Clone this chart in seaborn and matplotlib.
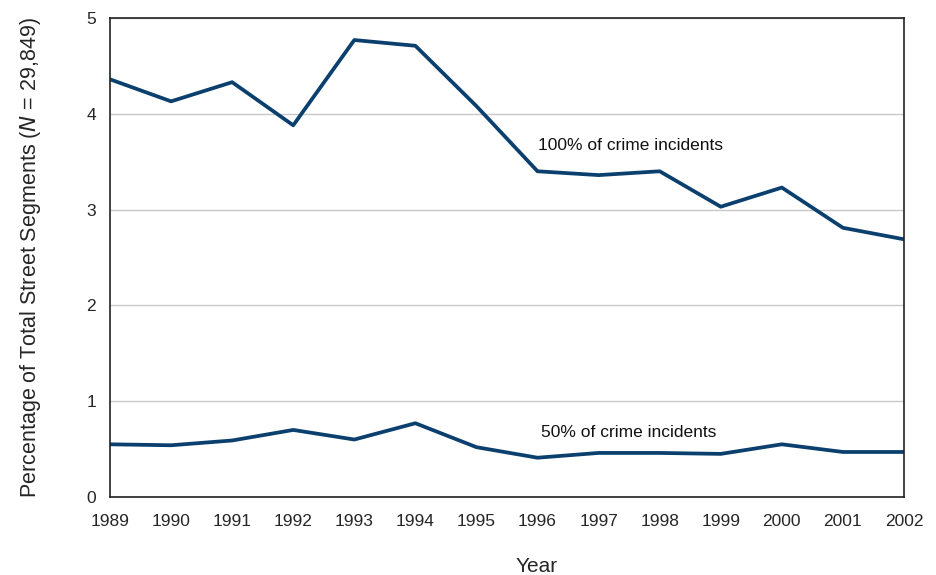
import matplotlib
matplotlib.use("Agg")
import matplotlib.pyplot as plt
import seaborn as sns
import pandas as pd
from matplotlib import font_manager

years = [1989, 1990, 1991, 1992, 1993, 1994, 1995, 1996, 1997, 1998, 1999, 2000, 2001, 2002]
pct_100 = [4.36, 4.13, 4.33, 3.88, 4.77, 4.71, 4.08, 3.40, 3.36, 3.40, 3.03, 3.23, 2.81, 2.69]
pct_50 = [0.55, 0.54, 0.59, 0.70, 0.60, 0.77, 0.52, 0.41, 0.46, 0.46, 0.45, 0.55, 0.47, 0.47]
series_names = ["100% of crime incidents", "50% of crime incidents"]
y_ticks = [0, 1, 2, 3, 4, 5]

sns.set_theme(style="white")
names = {f.name for f in font_manager.fontManager.ttflist}
fam = [f for f in ["Liberation Sans Narrow", "Liberation Sans", "DejaVu Sans"] if f in names]
plt.rcParams["font.family"] = fam

df = pd.concat([
    pd.DataFrame({"Year": years, "Pct": pct_100, "Series": series_names[0]}),
    pd.DataFrame({"Year": years, "Pct": pct_50, "Series": series_names[1]}),
])

color = "#0b3f6e"
fig = plt.figure(figsize=(9.37, 5.75), dpi=100)
ax = fig.add_axes([110 / 937, 78 / 575, 794 / 937, 479 / 575])
sns.lineplot(data=df, x="Year", y="Pct", units="Series", estimator=None,
             color=color, linewidth=2.7, ax=ax, legend=False)

ax.set_xlim(years[0], years[-1])
ax.set_ylim(0, 5)
ax.set_xticks(years)
ax.set_xticklabels([str(y) for y in years], fontsize=12.5)
ax.set_yticks(y_ticks)
ax.set_yticklabels([str(t) for t in y_ticks], fontsize=12.5)
ax.yaxis.grid(True, color="#c8c8c8", linewidth=1)
ax.xaxis.grid(False)
ax.set_axisbelow(True)
for s in ax.spines.values():
    s.set_visible(True)
    s.set_color("#222222")
    s.set_linewidth(1.2)
ax.tick_params(axis="x", direction="in", length=5, width=1, color="#222222", pad=12)
ax.tick_params(axis="y", length=0, pad=10)

ax.set_xlabel("Year", fontsize=15)
ax.xaxis.set_label_coords((537 - 110) / 794, -0.126)
ax.set_ylabel("Percentage of Total Street Segments ($\\it{N}$ = 29,849)", fontsize=15.5, labelpad=31)

ax.text(1996.0, 3.67, series_names[0], fontsize=12.5, va="center", ha="left", color="#111111")
ax.text(1996.05, 0.67, series_names[1], fontsize=12.5, va="center", ha="left", color="#111111")

fig.savefig("out.png", dpi=100)
